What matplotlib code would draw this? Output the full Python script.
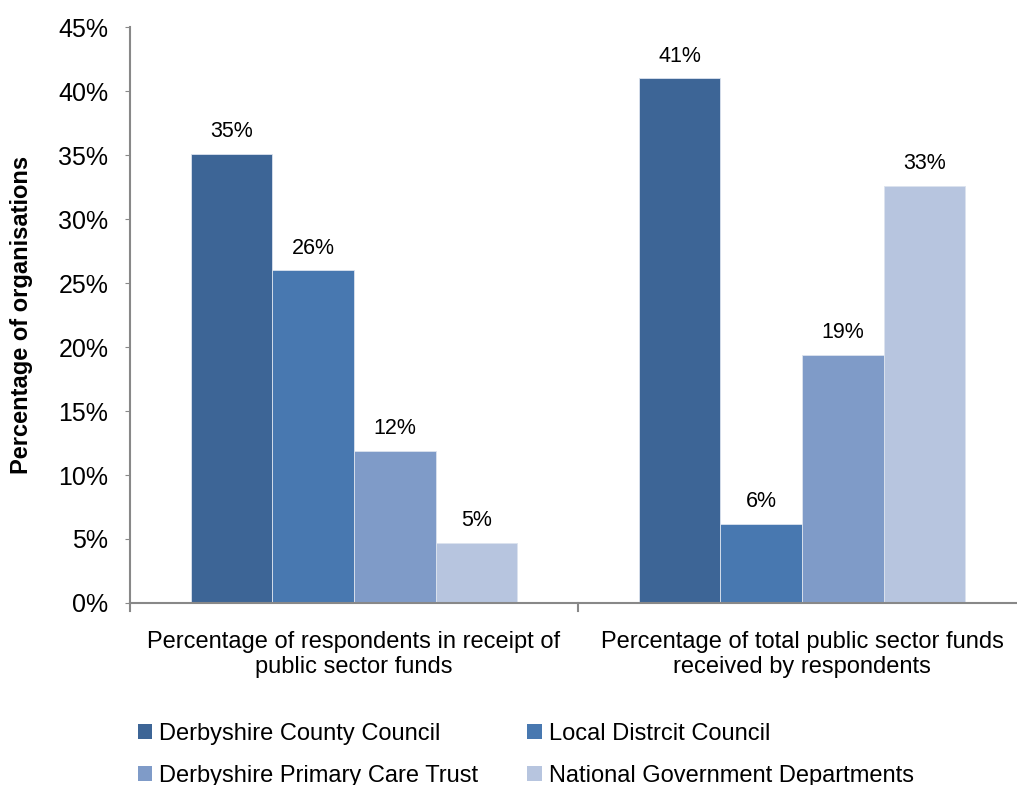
import numpy as np
import matplotlib.pyplot as plt
from matplotlib.patches import Patch
from matplotlib.ticker import FuncFormatter

plt.rcParams['font.family'] = ['Liberation Sans', 'DejaVu Sans']

kategorie = ["Percentage of respondents in receipt of\npublic sector funds",
             "Percentage of total public sector funds\nreceived by respondents"]
serie = ["Derbyshire County Council", "Local Distrcit Council",
         "Derbyshire Primary Care Trust", "National Government Departments"]
wartosci = [
    [35.1, 41.0],
    [26.0, 6.2],
    [11.9, 19.4],
    [4.7, 32.6],
]
kolory = ["#3D6596", "#4878B0", "#7F9BC8", "#B7C5DF"]

fig = plt.figure(figsize=(10.17, 7.85), dpi=100)
ax = fig.add_axes([130 / 1017, 1 - 603 / 785, 896 / 1017, 576 / 785])

szer = 0.182
x = np.arange(len(kategorie))
for i, (nazwa, val) in enumerate(zip(serie, wartosci)):
    pos = x + (i - 1.5) * szer
    ax.bar(pos, val, szer, color=kolory[i], edgecolor="#DCE3EE", linewidth=0.6,
           label=nazwa, zorder=2)
    for px, v in zip(pos, val):
        ax.text(px, v + 0.9, f"{v:.0f}%", ha="center", va="bottom", fontsize=15.5)

ax.set_xlim(-0.5, 1.5)
ax.set_ylim(0, 45)
ax.set_yticks(np.arange(0, 46, 5))
ax.yaxis.set_major_formatter(FuncFormatter(lambda v, p: f"{v:.0f}%"))
ax.tick_params(axis="y", labelsize=18, length=3.6, color="#888888", pad=12)

ax.set_xticks(x)
ax.set_xticklabels(kategorie, fontsize=17, linespacing=1.2)
ax.tick_params(axis="x", length=0, pad=20)
for xv in [-0.5, 0.5]:
    ax.plot([xv, xv], [0, -0.6], color="#888888", lw=1.5, clip_on=False)

for s in ["top", "right"]:
    ax.spines[s].set_visible(False)
for s in ["left", "bottom"]:
    ax.spines[s].set_color("#888888")
    ax.spines[s].set_linewidth(1.5)

fig.text(22 / 1017, 1 - 315 / 785, "Percentage of organisations", rotation=90,
         ha="center", va="center", fontsize=17, fontweight="bold")

# kolejnosc wierszami: matplotlib wypelnia legende kolumnami
kolejnosc = [0, 2, 1, 3]
uchwyty = [Patch(facecolor=kolory[k]) for k in kolejnosc]
etykiety = [serie[k] for k in kolejnosc]
fig.legend(uchwyty, etykiety, loc="upper left", bbox_to_anchor=(121 / 1017, 1 - 706 / 785),
           ncol=2, frameon=False, fontsize=17, handlelength=0.6, handleheight=0.6,
           handletextpad=0.3, columnspacing=2.1, labelspacing=0.85,
           borderpad=0.2)

fig.savefig("out.png", dpi=100)
